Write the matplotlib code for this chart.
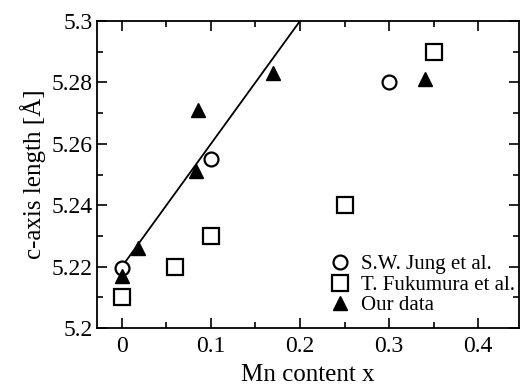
import matplotlib.pyplot as plt
import numpy as np

# S.W. Jung et al.
jung_x = [0.0, 0.1, 0.3]
jung_y = [5.2195, 5.255, 5.280]

# T. Fukumura et al.
fuku_x = [0.0, 0.06, 0.1, 0.25, 0.35]
fuku_y = [5.210, 5.220, 5.230, 5.240, 5.290]

# our data
our_x = [0.0, 0.018, 0.083, 0.085, 0.17, 0.34]
our_y = [5.217, 5.226, 5.251, 5.271, 5.283, 5.281]

# linear fit line
fit_x = [0.0, 0.2]
fit_y = [5.22, 5.30]

plt.rcParams['font.family'] = ['Liberation Serif', 'DejaVu Serif']

fig = plt.figure(figsize=(5.21, 3.9), dpi=100)
ax = fig.add_axes([97 / 521, 1 - 328 / 390, (519 - 97) / 521, (328 - 21) / 390])

ax.plot(fit_x, fit_y, color='black', lw=1.3)
ax.plot(jung_x, jung_y, 'o', ms=10, mfc='white', mec='black', mew=1.6,
        label='S.W. Jung et al.')
ax.plot(fuku_x, fuku_y, 's', ms=11, mfc='none', mec='black', mew=1.6,
        label='T. Fukumura et al.')
ax.plot(our_x, our_y, '^', ms=10, color='black', label='Our data')

ax.set_xlim(-0.028, 0.446)
ax.set_ylim(5.2, 5.3)
ax.set_xticks([0, 0.1, 0.2, 0.3, 0.4])
ax.set_xticklabels(['0', '0.1', '0.2', '0.3', '0.4'])
ax.set_xticks(np.arange(0.05, 0.45, 0.1), minor=True)
ax.set_yticks([5.2, 5.22, 5.24, 5.26, 5.28, 5.3])
ax.set_yticklabels(['5.2', '5.22', '5.24', '5.26', '5.28', '5.3'])
ax.set_yticks(np.arange(5.21, 5.3, 0.02), minor=True)
ax.tick_params(which='both', direction='in', top=True, right=True, labelsize=17)
ax.tick_params(which='major', length=7, width=1.2)
ax.tick_params(which='minor', length=4, width=1.2)
ax.tick_params(axis='x', pad=6)
ax.tick_params(axis='y', pad=3)
for s in ax.spines.values():
    s.set_linewidth(1.3)

ax.set_xlabel('Mn content x', fontsize=18, labelpad=5)
ax.set_ylabel('c-axis length [Å]', fontsize=18, labelpad=4)

ax.legend(loc='lower right', frameon=False, fontsize=15, handletextpad=0.4,
          labelspacing=0.05, borderaxespad=0.2, handlelength=1.2,
          bbox_to_anchor=(1.02, 0.0))

fig.savefig('out.png', dpi=100)
